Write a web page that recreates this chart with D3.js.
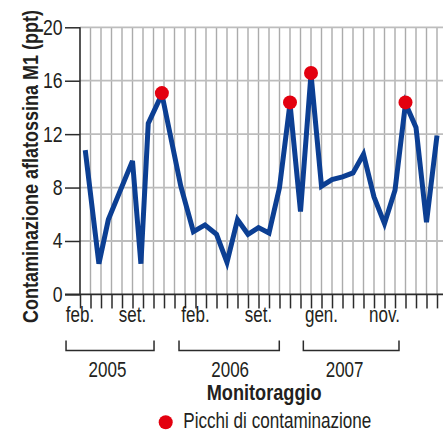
<!DOCTYPE html>
<html>
<head>
<meta charset="utf-8">
<script src="https://cdn.jsdelivr.net/npm/d3@7"></script>
<style>
  html, body { margin: 0; padding: 0; background: #fff; }
  svg { display: block; }
  text { font-family: "Liberation Sans", Arial, sans-serif; fill: #231f20; }
</style>
</head>
<body>
<svg id="chart" width="443" height="432"></svg>
<script>
// ---- data ----
const samplePos = [0.5, 1.8, 2.7, 5, 5.8, 6.5, 7.8, 9.6, 10.8, 11.9,
  13, 14, 15, 16, 17, 18, 19, 20, 21, 22, 23, 24, 25, 26, 27, 28, 29, 30, 31, 32, 33, 34];
const sampleValues = [10.8, 2.3, 5.6, 10.0, 2.3, 12.8, 15.0, 8.1, 4.7, 5.2,
  4.5, 2.4, 5.6, 4.5, 5.0, 4.6, 8.0, 14.3, 6.2, 16.5, 8.1, 8.6, 8.8, 9.1, 10.5, 7.3, 5.3, 7.8, 14.3, 12.5, 5.4, 11.9];
const peakIndex = [6, 17, 19, 28];
const monthLabels = ["feb.", "set.", "feb.", "set.", "gen.", "nov."];
const monthTicks = [0, 5, 11, 17, 23, 29];
const yearLabels = ["2005", "2006", "2007"];
const yearStart = [-1.33, 9.43, 21.27];
const yearEnd = [7.05, 18.98, 30.38];
const yearLabelPos = [2.62, 14.3, 25.2];
const yTicks = [0, 4, 8, 12, 16, 20];
const tickCount = 35;
const yTitle = "Contaminazione aflatossina M1 (ppt)";
const xTitle = "Monitoraggio";
const legendLabel = "Picchi di contaminazione";

// ---- drawing ----
const svg = d3.select("#chart");
const x = d3.scaleLinear().domain([0, 34]).range([80, 437]);
const y = d3.scaleLinear().domain([0, 20]).range([294.4, 27.3]);
const W = 443;
const dark = "#2b2b2b";
const blue = "#0c3f93";
const red = "#e3000f";
const FS = 21.5;
const squeeze = 0.79;   // emulate a condensed face

function condense(sel, k) {
  sel.each(function () {
    const len = this.getComputedTextLength();
    d3.select(this).attr("textLength", len * k).attr("lengthAdjust", "spacingAndGlyphs");
  });
}

// vertical grid
const gridTicks = d3.range(1, tickCount);
svg.append("g").selectAll("line").data(gridTicks).join("line")
  .attr("x1", d => x(d)).attr("x2", d => x(d))
  .attr("y1", y(20)).attr("y2", y(0))
  .attr("stroke", "#ababab").attr("stroke-width", 1.4);

// horizontal grid
svg.append("g").selectAll("line").data(yTicks.filter(d => d > 0)).join("line")
  .attr("x1", x(0)).attr("x2", W)
  .attr("y1", d => y(d)).attr("y2", d => y(d))
  .attr("stroke", "#bdbdbd").attr("stroke-width", 1.8);

// y axis
const yAxis = d3.axisLeft(y).tickValues(yTicks).tickSize(15).tickPadding(2.5).tickFormat(d3.format("d"));
const gy = svg.append("g").attr("transform", `translate(${x(0)},0)`).call(yAxis);
gy.select(".domain").remove();
gy.selectAll(".tick line").attr("stroke", dark).attr("stroke-width", 1.5);
gy.selectAll(".tick text").attr("font-size", FS).attr("fill", "#231f20")
  .attr("font-family", null).call(condense, 0.82);
svg.append("line").attr("x1", x(0)).attr("x2", x(0)).attr("y1", y(20)).attr("y2", y(0))
  .attr("stroke", dark).attr("stroke-width", 1.6);

// x axis
const xAxis = d3.axisBottom(x).tickValues(d3.range(0, tickCount)).tickSize(14).tickFormat("");
const gx = svg.append("g").attr("transform", `translate(0,${y(0)})`).call(xAxis);
gx.select(".domain").remove();
gx.selectAll(".tick line").attr("stroke", dark).attr("stroke-width", 1.5);
svg.append("line").attr("x1", 65).attr("x2", W).attr("y1", y(0)).attr("y2", y(0))
  .attr("stroke", dark).attr("stroke-width", 1.6);

// month labels
svg.append("g").selectAll("text").data(monthLabels).join("text")
  .attr("x", (d, i) => x(monthTicks[i])).attr("y", 322)
  .attr("text-anchor", "middle").attr("font-size", FS).text(d => d)
  .call(condense, squeeze);

// year brackets
const gb = svg.append("g").attr("fill", "none").attr("stroke", dark).attr("stroke-width", 1.5);
yearLabels.forEach((lab, i) => {
  const x0 = x(yearStart[i]), x1 = x(yearEnd[i]);
  gb.append("path").attr("d", `M${x0},340.5V350.5H${x1}V340.5`);
  svg.append("text").attr("x", x(yearLabelPos[i])).attr("y", 376.5)
    .attr("text-anchor", "middle").attr("font-size", FS).text(lab)
    .call(condense, squeeze);
});

// x title
svg.append("text").attr("x", 264.2).attr("y", 399.5).attr("text-anchor", "middle")
  .attr("font-size", FS).attr("font-weight", "bold").text(xTitle)
  .attr("textLength", 115).attr("lengthAdjust", "spacingAndGlyphs");

// y title (condensed with a horizontal scale so its box stays inside the page)
const yt = svg.append("text")
  .attr("text-anchor", "middle").attr("font-size", FS).attr("font-weight", "bold")
  .text(yTitle);
const ytLen = yt.node().getComputedTextLength();
yt.attr("transform", `translate(38,166.5) rotate(-90) scale(${313 / ytLen},1)`);

// data line
const pts = samplePos.map((p, i) => [p, sampleValues[i]]);
const line = d3.line().x(d => x(d[0])).y(d => y(d[1]));
svg.append("path").datum(pts).attr("d", line)
  .attr("fill", "none").attr("stroke", blue).attr("stroke-width", 5)
  .attr("stroke-linejoin", "miter").attr("stroke-miterlimit", 4);

// peaks
svg.append("g").selectAll("circle").data(peakIndex).join("circle")
  .attr("cx", d => x(samplePos[d])).attr("cy", d => y(sampleValues[d]) - 1)
  .attr("r", 7).attr("fill", red);

// legend
svg.append("circle").attr("cx", 165.7).attr("cy", 422.3).attr("r", 7).attr("fill", red);
svg.append("text").attr("x", 183.3).attr("y", 428.3).attr("font-size", FS).text(legendLabel)
  .attr("textLength", 188).attr("lengthAdjust", "spacingAndGlyphs");
</script>
</body>
</html>
